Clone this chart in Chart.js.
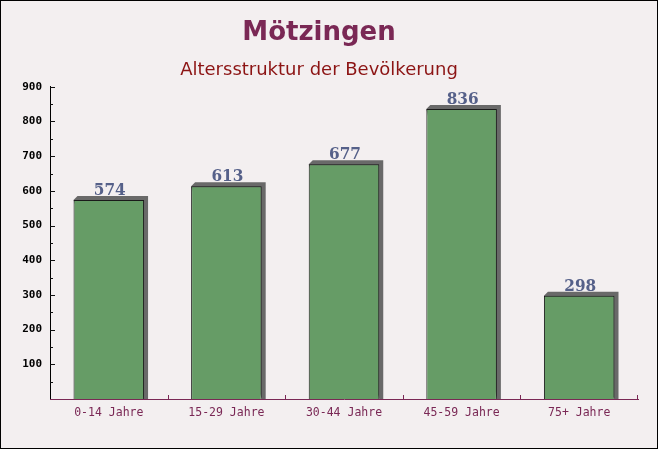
<!DOCTYPE html>
<html>
<head>
<meta charset="utf-8">
<script src="https://cdn.jsdelivr.net/npm/chart.js@4.4.1/dist/chart.umd.min.js"></script>
<style>
  html, body { margin: 0; padding: 0; background: #f3eff0; }
  #wrap { width: 658px; height: 449px; position: relative; }
</style>
</head>
<body>
<div id="wrap"><canvas id="chart" width="658" height="449"></canvas></div>
<script>
const categories = ['0-14 Jahre', '15-29 Jahre', '30-44 Jahre', '45-59 Jahre', '75+ Jahre'];
const values = [574, 613, 677, 836, 298];
const yTicks = [100, 200, 300, 400, 500, 600, 700, 800, 900];

const titleColor = 'rgb(122,40,85)';
const subColor = 'rgb(140,20,20)';

// background, 3d shadow, value labels, tick marks, frame
const decor = {
  id: 'decor',
  beforeDraw(chart) {
    const c = chart.ctx;
    c.save();
    c.fillStyle = '#f3eff0';
    c.fillRect(0, 0, chart.width, chart.height);
    c.restore();
  },
  beforeDatasetsDraw(chart) {
    const c = chart.ctx;
    const base = chart.scales.y.getPixelForValue(0);
    c.save();
    c.fillStyle = 'rgb(105,105,105)';
    chart.getDatasetMeta(0).data.forEach(bar => {
      const l = bar.x - bar.width / 2, r = bar.x + bar.width / 2, t = bar.y;
      c.beginPath();
      c.moveTo(l, t);
      c.lineTo(l + 4, t - 4);
      c.lineTo(r + 4, t - 4);
      c.lineTo(r + 4, base);
      c.lineTo(r, base);
      c.closePath();
      c.fill();
    });
    c.restore();
  },
  afterDatasetsDraw(chart) {
    const c = chart.ctx;
    c.save();
    c.font = 'bold 17px "DejaVu Serif Condensed", "DejaVu Serif"';
    c.fillStyle = 'rgb(85,96,137)';
    c.textAlign = 'center';
    c.textBaseline = 'alphabetic';
    chart.getDatasetMeta(0).data.forEach((bar, i) => {
      c.fillText(String(values[i]), bar.x + 1, bar.y - 5);
    });
    c.restore();
  },
  afterDraw(chart) {
    const c = chart.ctx;
    const y = chart.scales.y, x = chart.scales.x;
    const left = chart.chartArea.left, bottom = chart.chartArea.bottom;
    c.save();
    c.lineWidth = 1;
    c.strokeStyle = '#111';
    for (let v = 50; v <= 900; v += 50) {
      const py = Math.round(y.getPixelForValue(v)) + 0.5;
      c.beginPath();
      c.moveTo(left, py);
      c.lineTo(left + (v % 100 === 0 ? 5 : 3), py);
      c.stroke();
    }
    c.strokeStyle = titleColor;
    for (let i = 1; i <= categories.length; i++) {
      const px = Math.round((x.getPixelForValue(i - 1) + x.getPixelForValue(i)) / 2) + 0.5;
      const pr = i === categories.length ? chart.chartArea.right - 0.5 : px;
      c.beginPath();
      c.moveTo(pr, bottom);
      c.lineTo(pr, bottom - 4);
      c.stroke();
    }
    c.strokeStyle = '#000';
    c.strokeRect(0.5, 0.5, chart.width - 1, chart.height - 1);
    c.restore();
  }
};

new Chart(document.getElementById('chart'), {
  type: 'bar',
  data: {
    labels: categories,
    datasets: [{
      data: values,
      backgroundColor: 'rgb(102,156,102)',
      borderColor: '#1a1a1a',
      borderWidth: 1,
      barPercentage: 0.6,
      categoryPercentage: 1
    }]
  },
  options: {
    responsive: false,
    animation: false,
    layout: { padding: { left: 0, right: 20, top: 0, bottom: 0 } },
    plugins: {
      legend: { display: false },
      tooltip: { enabled: false },
      title: {
        display: true,
        text: 'Mötzingen',
        color: titleColor,
        font: { family: '"DejaVu Sans"', size: 26, weight: 'bold' },
        padding: { top: 18, bottom: 10 }
      },
      subtitle: {
        display: true,
        text: 'Altersstruktur der Bevölkerung',
        color: subColor,
        font: { family: '"DejaVu Sans"', size: 18 },
        padding: { top: 0, bottom: 6 }
      }
    },
    scales: {
      y: {
        min: 0,
        max: 900,
        afterFit(scale) { scale.width = 50; },
        afterBuildTicks(scale) { scale.ticks = yTicks.map(v => ({ value: v })); },
        grid: { display: false, drawTicks: false },
        border: { display: true, color: '#000', width: 1 },
        ticks: {
          padding: 8,
          color: '#000',
          font: { family: '"DejaVu Sans Mono"', size: 11, weight: 'bold' }
        }
      },
      x: {
        afterFit(scale) { scale.height = 50; },
        grid: { display: false, drawTicks: false },
        border: { display: true, color: titleColor, width: 1 },
        ticks: {
          padding: 7,
          color: titleColor,
          font: { family: '"DejaVu Sans Mono"', size: 11.5 }
        }
      }
    }
  },
  plugins: [decor]
});
</script>
</body>
</html>
